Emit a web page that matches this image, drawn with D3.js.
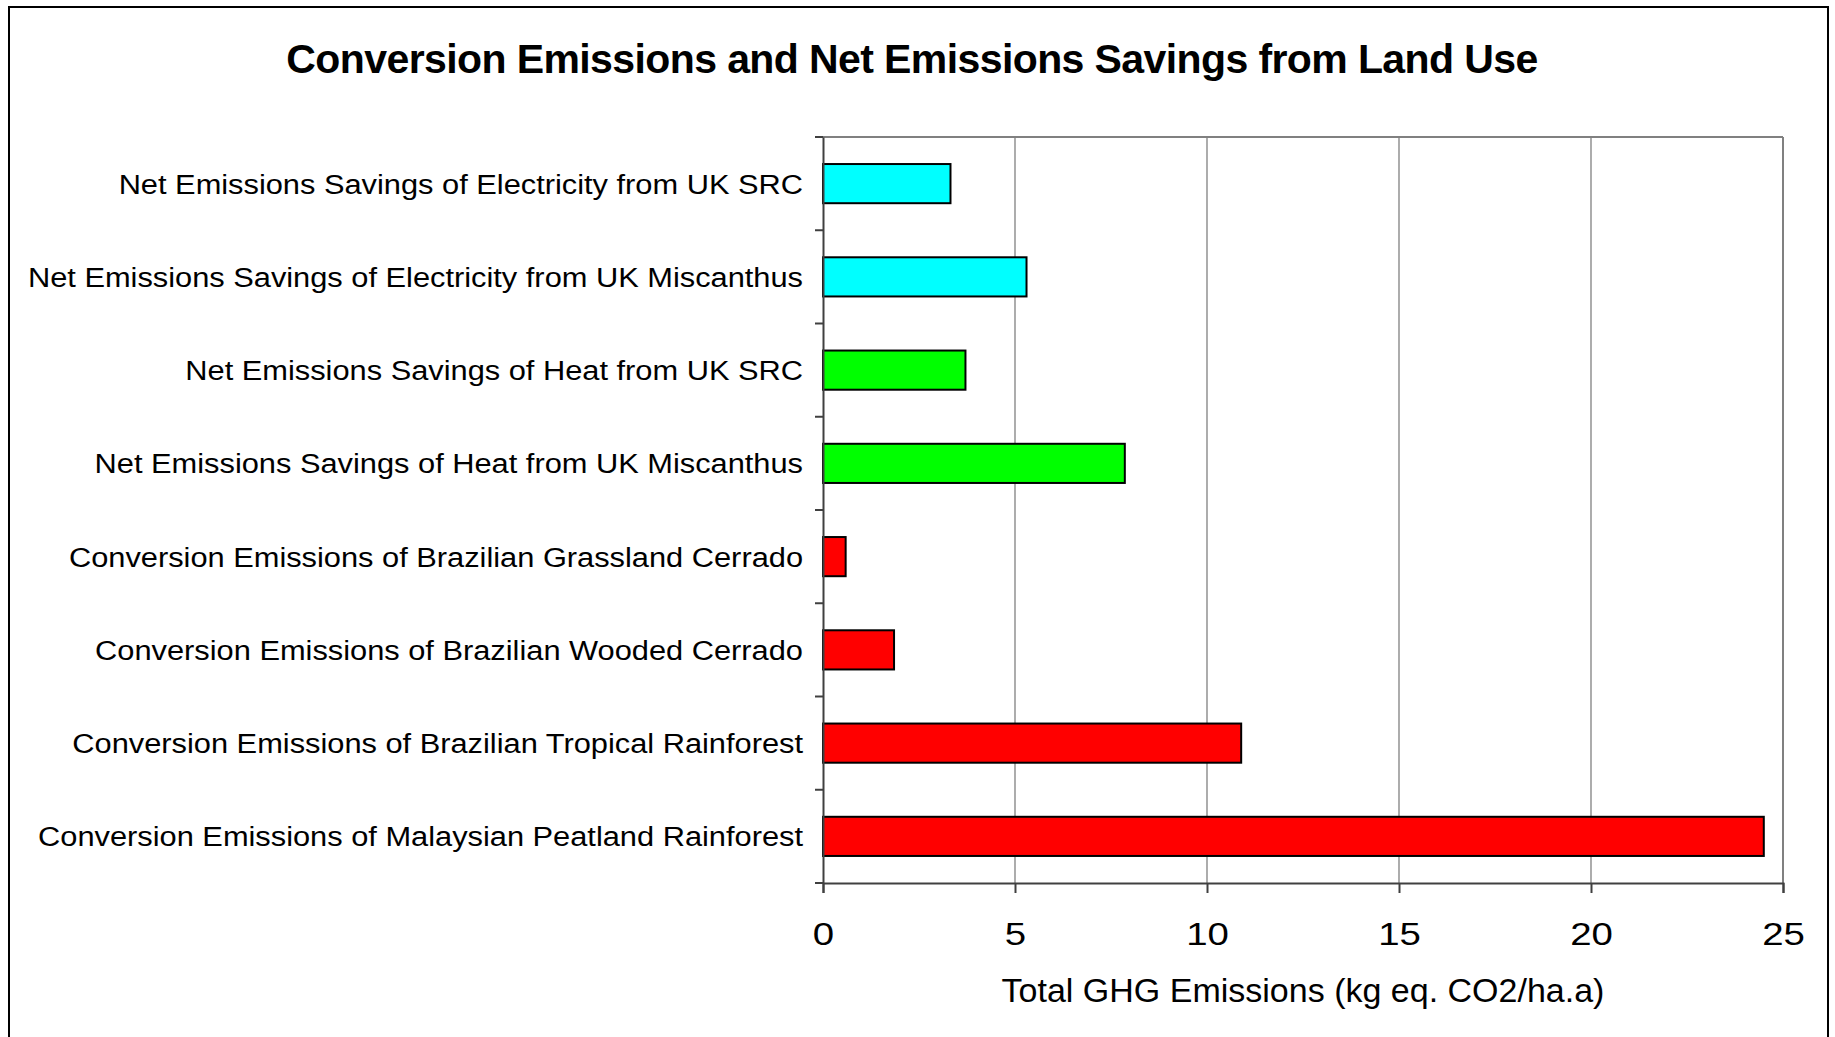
<!DOCTYPE html>
<html>
<head>
<meta charset="utf-8">
<script src="https://cdn.jsdelivr.net/npm/d3@7"></script>
<style>
	html, body {margin: 0; padding: 0; background: #fff;}
	text {font-family: "Liberation Sans", Arial, sans-serif; fill: #000;}
</style>
</head>
<body>
<svg id="chart" width="1835" height="1037"></svg>
<script>
//categories, top to bottom
var categories = [
	"Net Emissions Savings of Electricity from UK SRC",
	"Net Emissions Savings of Electricity from UK Miscanthus",
	"Net Emissions Savings of Heat from UK SRC",
	"Net Emissions Savings of Heat from UK Miscanthus",
	"Conversion Emissions of Brazilian Grassland Cerrado",
	"Conversion Emissions of Brazilian Wooded Cerrado",
	"Conversion Emissions of Brazilian Tropical Rainforest",
	"Conversion Emissions of Malaysian Peatland Rainforest"
];

//kg eq. CO2/ha.a
var values = [3.32, 5.30, 3.71, 7.86, 0.59, 1.85, 10.89, 24.5];

//bar group: electricity, heat, conversion
var groups = ["elec", "elec", "heat", "heat", "conv", "conv", "conv", "conv"];
var groupColors = {elec: "#00ffff", heat: "#00ff00", conv: "#ff0000"};

var xTicks = [0, 5, 10, 15, 20, 25];

var chartTitle = "Conversion Emissions and Net Emissions Savings from Land Use";
var xTitle = "Total GHG Emissions (kg eq. CO2/ha.a)";

var svg = d3.select("#chart");

//outer frame, bottom edge runs off the picture
svg.append("rect")
.attr("x", 9)
.attr("y", 7)
.attr("width", 1819)
.attr("height", 1060)
.attr("fill", "none")
.attr("stroke", "#000")
.attr("stroke-width", 2);

var plot = {left: 823, right: 1783, top: 137, bottom: 883};

var x = d3.scaleLinear()
.domain([0, 25])
.range([plot.left, plot.right]);

//paddingOuter half of paddingInner so each category gets an equal slot
var y = d3.scaleBand()
.domain(categories)
.range([plot.top, plot.bottom])
.paddingInner(0.58)
.paddingOuter(0.29);

//vertical grid lines
svg.append("g")
.selectAll("line")
.data(xTicks.slice(1))
.enter()
.append("line")
.attr("x1", function(d){return x(d);})
.attr("x2", function(d){return x(d);})
.attr("y1", plot.top)
.attr("y2", plot.bottom)
.attr("stroke", "#808080")
.attr("stroke-width", function(d){return d === 25 ? 2 : 1.3;});

//top edge of plot area
svg.append("line")
.attr("x1", plot.left)
.attr("x2", plot.right)
.attr("y1", plot.top)
.attr("y2", plot.top)
.attr("stroke", "#808080")
.attr("stroke-width", 2);

//bars
svg.append("g")
.selectAll("rect")
.data(values)
.enter()
.append("rect")
.attr("x", x(0))
.attr("y", function(d, i){return y(categories[i]);})
.attr("width", function(d){return x(d) - x(0);})
.attr("height", y.bandwidth())
.attr("fill", function(d, i){return groupColors[groups[i]];})
.attr("stroke", "#000")
.attr("stroke-width", 2);

//category axis: ticks sit on the boundaries between slots
var yAxis = d3.axisLeft(y).tickSize(0).tickFormat("");
svg.append("g")
.attr("transform", "translate(" + plot.left + ",0)")
.call(yAxis)
.select(".domain")
.attr("stroke", "#404040")
.attr("stroke-width", 2);

var boundaries = d3.range(categories.length + 1).map(function(i){
	return plot.top + i * y.step();
});
svg.append("g")
.selectAll("line")
.data(boundaries)
.enter()
.append("line")
.attr("x1", plot.left - 8)
.attr("x2", plot.left)
.attr("y1", function(d){return d;})
.attr("y2", function(d){return d;})
.attr("stroke", "#404040")
.attr("stroke-width", 2);

//category labels, text is a bit wider than Arial so stretch it
svg.append("g")
.selectAll("text")
.data(categories)
.enter()
.append("text")
.attr("transform", function(d){
	return "translate(" + (plot.left - 20) + "," + (y(d) + y.bandwidth() / 2 + 10) + ") scale(1.1,1)";
})
.attr("text-anchor", "end")
.style("font-size", "28px")
.text(function(d){return d;});

//value axis
var xAxis = d3.axisBottom(x).tickValues(xTicks).tickSize(10).tickFormat(d3.format("d"));
var xAxisG = svg.append("g")
.attr("transform", "translate(0," + plot.bottom + ")")
.call(xAxis);

xAxisG.select(".domain")
.attr("stroke", "#404040")
.attr("stroke-width", 2);
xAxisG.selectAll(".tick line")
.attr("stroke", "#404040")
.attr("stroke-width", 2);
xAxisG.selectAll(".tick text")
.attr("y", 0)
.attr("dy", 0)
.attr("transform", "translate(0,62) scale(1.2,1)")
.style("font-size", "32px")
.style("font-family", "'Liberation Sans', Arial, sans-serif")
.attr("fill", "#000");

//axis title
svg.append("text")
.attr("x", (plot.left + plot.right) / 2)
.attr("y", 1002)
.attr("text-anchor", "middle")
.style("font-size", "34px")
.text(xTitle);

//chart title
svg.append("text")
.attr("x", 912)
.attr("y", 73)
.attr("text-anchor", "middle")
.style("font-size", "41px")
.style("font-weight", "bold")
.style("letter-spacing", "-0.6px")
.text(chartTitle);
</script>
</body>
</html>
